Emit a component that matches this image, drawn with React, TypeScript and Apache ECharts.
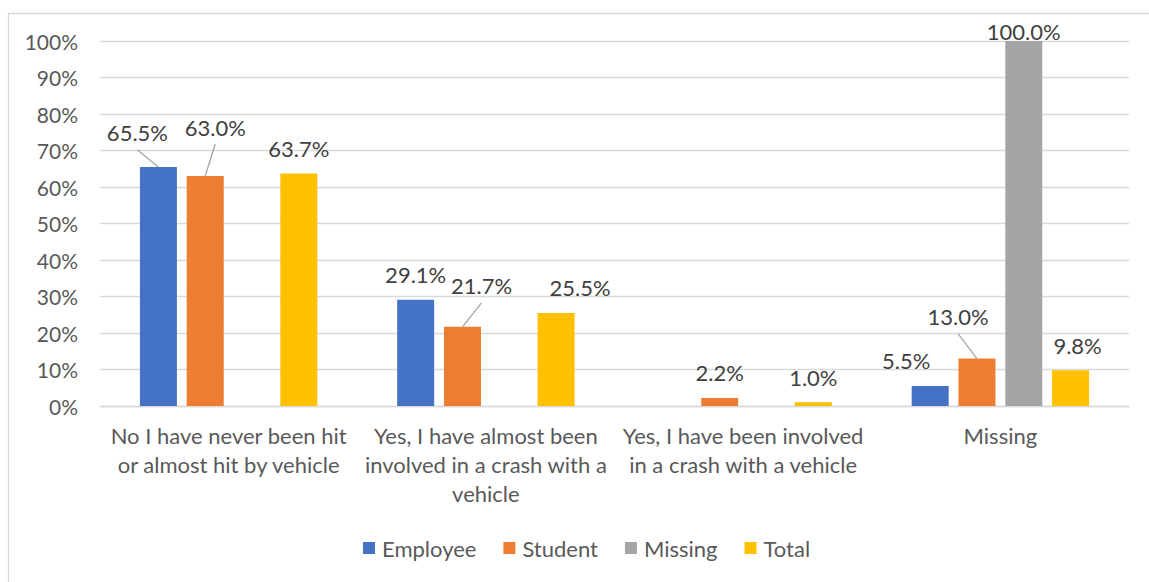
import React, { useEffect, useRef } from "react";
import * as echarts from "echarts";

// Survey categories (line breaks follow the wrapped axis labels)
const categories = [
  "No I have never been hit\nor almost hit by vehicle",
  "Yes, I have almost been\ninvolved in a crash with a\nvehicle",
  "Yes, I have been involved\nin a crash with a vehicle",
  "Missing",
];

const seriesNames = ["Employee", "Student", "Missing", "Total"];

// Percentages per group; null = no response recorded
const employee: (number | null)[] = [65.5, 29.1, null, 5.5];
const student: (number | null)[] = [63.0, 21.7, 2.2, 13.0];
const missing: (number | null)[] = [null, null, null, 100.0];
const total: (number | null)[] = [63.7, 25.5, 1.0, 9.8];

const seriesValues = [employee, student, missing, total];
const seriesColors = ["#4472C4", "#ED7D31", "#A5A5A5", "#FFC000"];

// Manual label nudges [dx, dy] per series / category, and which labels get a leader line
const labelNudge: [number, number][][] = [
  [[-21, -9], [0, 0], [0, 0], [-24, 0]],
  [[10, -24], [19, -16], [0, 0], [-19, -17]],
  [[0, 0], [0, 0], [0, 0], [0, 15]],
  [[0, 0], [24, 0], [0, 0], [7, 0]],
];
const leaderLine: boolean[][] = [
  [true, false, false, false],
  [true, true, false, true],
  [false, false, false, false],
  [false, false, false, false],
];

const FONT = "Lato, 'Liberation Sans', sans-serif";
const BAR_WIDTH = 37;
const BAR_GAP = 0.265;
const LABEL_RISE = 25;
const LINE_TAIL = 17;

export default function App() {
  const ref = useRef<HTMLDivElement>(null);

  useEffect(() => {
    if (!ref.current) return;
    const chart = echarts.init(ref.current, undefined, { renderer: "svg" });

    const step = BAR_WIDTH * (1 + BAR_GAP);

    const barSeries = seriesNames.map((name, s) => ({
      name,
      type: "bar",
      data: seriesValues[s],
      barWidth: BAR_WIDTH,
      barGap: BAR_GAP * 100 + "%",
      itemStyle: { color: seriesColors[s] },
      label: {
        show: true,
        position: "top",
        formatter: (p: any) => Number(p.value).toFixed(1) + "%",
        color: "#404040",
        fontFamily: FONT,
        fontSize: 22,
      },
      labelLayout: (p: any) => {
        const [dx, dy] = labelNudge[s][p.dataIndex];
        const r = p.rect;
        const top = Math.min(r.y, r.y + r.height);
        return {
          x: r.x + r.width / 2 + dx,
          y: top - LABEL_RISE + dy,
          align: "center",
          verticalAlign: "middle",
        };
      },
    }));

    // Leader lines from the bar top to the nudged label
    const leaderData: number[][] = [];
    seriesValues.forEach((vals, s) => {
      vals.forEach((v, c) => {
        if (v != null && leaderLine[s][c]) leaderData.push([c, v, s]);
      });
    });

    const leaderSeries = {
      name: "leaders",
      type: "custom",
      silent: true,
      z: 3,
      data: leaderData,
      encode: { x: 0, y: 1 },
      renderItem: (params: any, api: any) => {
        const c = api.value(0);
        const v = api.value(1);
        const s = api.value(2);
        const pt = api.coord([c, v]);
        const bx = pt[0] + (s - 1.5) * step;
        const [dx, dy] = labelNudge[s][c];
        return {
          type: "line",
          shape: {
            x1: bx,
            y1: pt[1],
            x2: bx + dx,
            y2: pt[1] - LABEL_RISE + dy + LINE_TAIL,
          },
          style: { stroke: "#A6A6A6", lineWidth: 1.3 },
        };
      },
    };

    chart.setOption({
      animation: false,
      textStyle: { fontFamily: FONT },
      grid: { left: 100, right: 20, top: 41, bottom: 176 },
      legend: {
        data: seriesNames,
        top: 532,
        left: 358,
        icon: "rect",
        itemWidth: 12,
        itemHeight: 12,
        itemGap: 27,
        textStyle: {
          color: "#595959",
          fontFamily: FONT,
          fontSize: 22,
          padding: [0, 0, 0, 2],
        },
      },
      xAxis: {
        type: "category",
        data: categories,
        axisTick: { show: false },
        axisLine: { lineStyle: { color: "#D9D9D9", width: 1.3 } },
        axisLabel: {
          color: "#595959",
          fontFamily: FONT,
          fontSize: 22,
          lineHeight: 29,
          margin: 15,
          interval: 0,
        },
      },
      yAxis: {
        type: "value",
        min: 0,
        max: 100,
        interval: 10,
        axisLine: { show: false },
        axisTick: { show: false },
        splitLine: { lineStyle: { color: "#D9D9D9", width: 1.3 } },
        axisLabel: {
          formatter: "{value}%",
          color: "#595959",
          fontFamily: FONT,
          fontSize: 21,
          margin: 22,
        },
      },
      graphic: [
        {
          type: "rect",
          left: 6,
          top: 11,
          shape: { x: 0, y: 0, width: 1300, height: 700 },
          style: { fill: "none", stroke: "#D9D9D9", lineWidth: 1.3 },
          silent: true,
        },
      ],
      series: [...barSeries, leaderSeries],
    });

    return () => chart.dispose();
  }, []);

  return (
    <div
      ref={ref}
      style={{ position: "absolute", left: 0, top: 0, width: 1149, height: 582 }}
    />
  );
}
